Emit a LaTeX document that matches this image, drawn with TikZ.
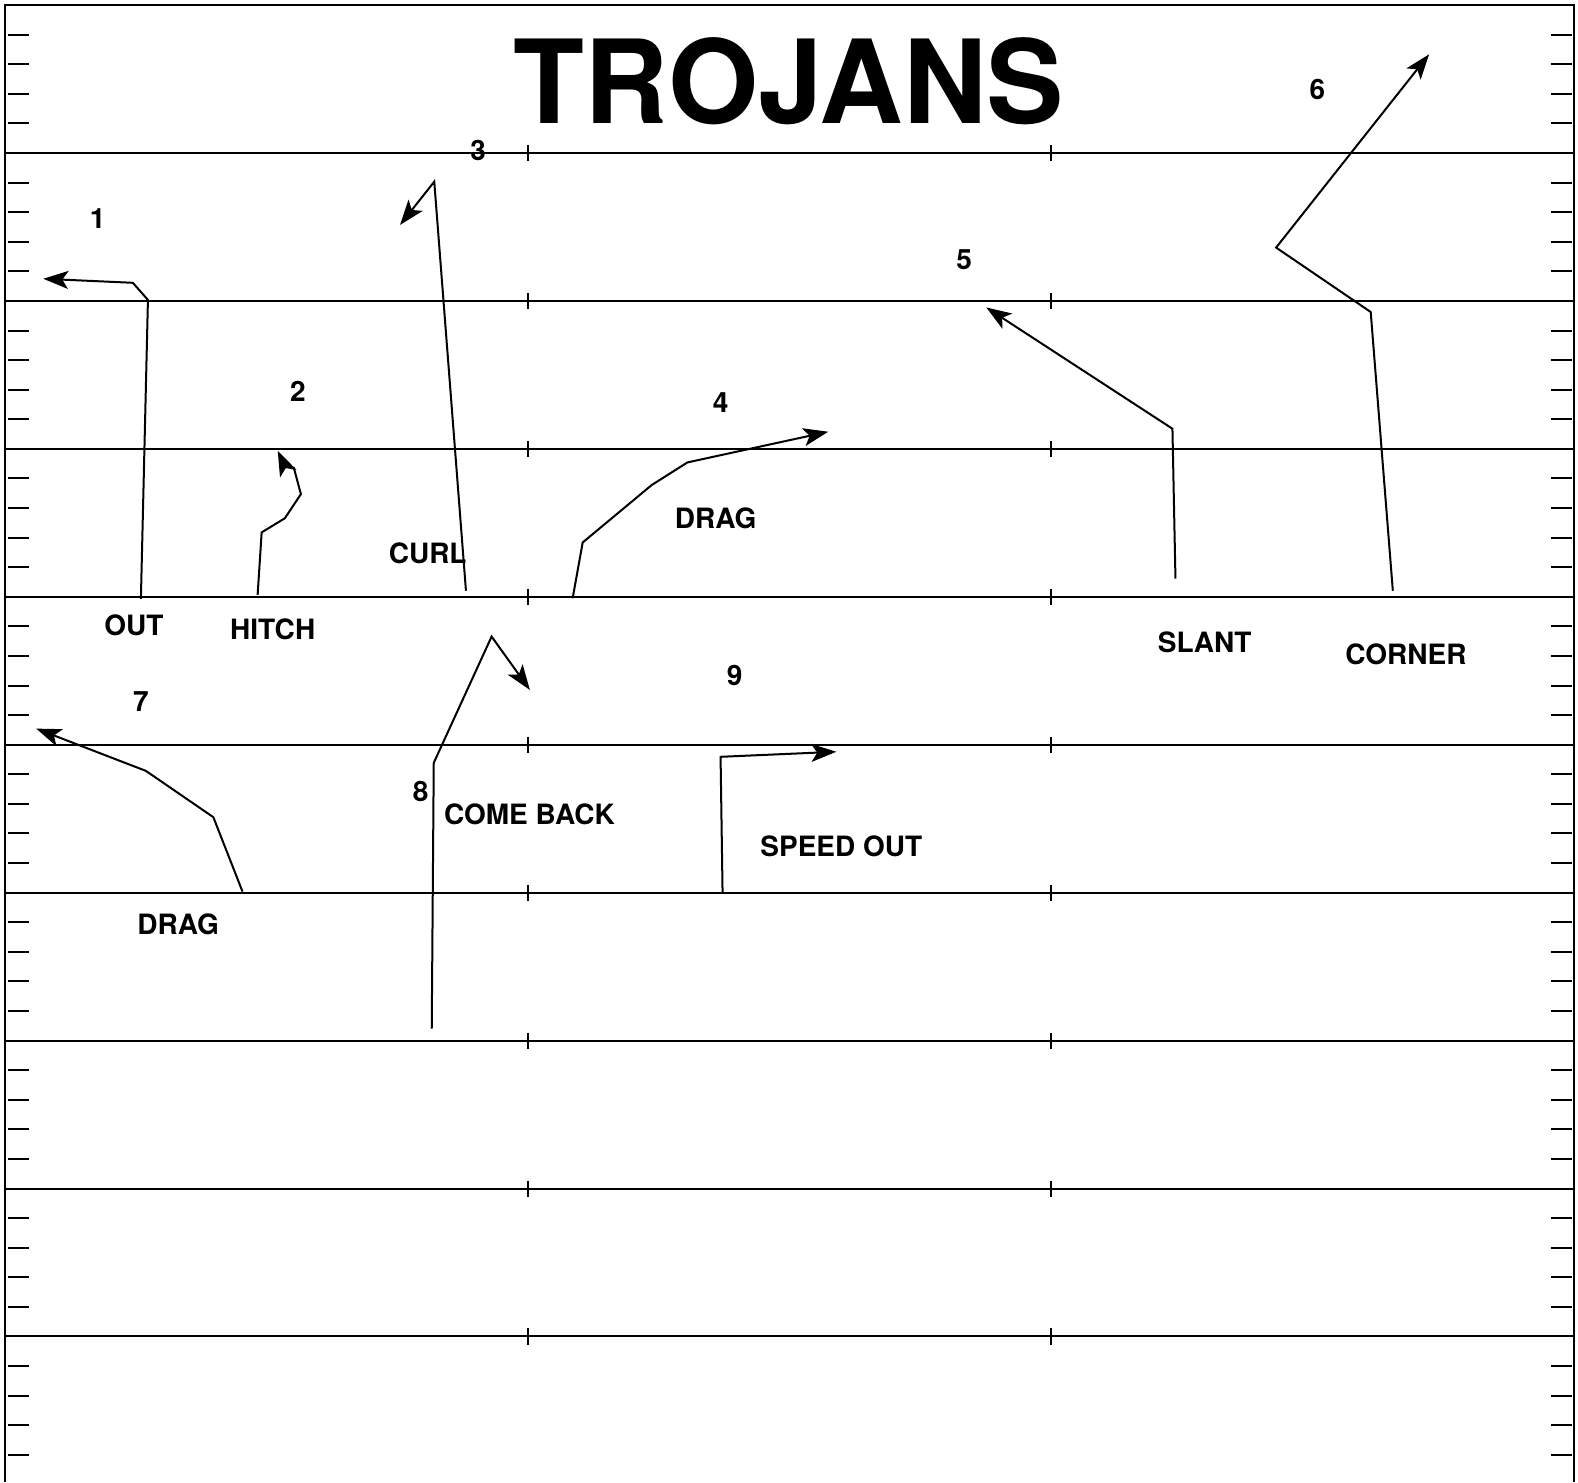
\documentclass[tikz,border=0pt]{standalone}
\usepackage{fontspec}
\setmainfont{TeX Gyre Heros}
\usetikzlibrary{arrows.meta}
\begin{document}
\begin{tikzpicture}[x=0.50319pt,y=-0.50319pt,line width=1pt,
  font=\bfseries\fontsize{14}{16}\selectfont,
  route/.style={line width=1pt,-{Stealth[length=12.5pt,width=9pt,inset=3pt]}}]
  % Coordinates are pixels of the play sheet, y runs downwards.
  \useasboundingbox (0,0) rectangle (1568,1473);
  \fill[white] (0,0) rectangle (1568,1473);
  \draw (5,1473) -- (5,5) -- (1564,5) -- (1564,1473);
  \foreach \k in {1,...,9}{\draw (5,{5+147*\k}) -- (1564,{5+147*\k});
    \draw (525,{147*\k-3}) -- (525,{147*\k+13});
    \draw (1044,{147*\k-3}) -- (1044,{147*\k+13});}
  \foreach \k in {0,...,9}{\foreach \j in {1,...,4}{
    \draw (8,{5+147*\k+29.4*\j}) -- (29,{5+147*\k+29.4*\j});
    \draw (1541,{5+147*\k+29.4*\j}) -- (1562,{5+147*\k+29.4*\j});}}
  \node[font=\bfseries\fontsize{58}{60}\selectfont] (title) at (784,81) {TROJANS};
  % routes
  \draw[route] (140,595) -- (147,298) -- (132,281) -- (43,277);
  \draw[route] (256,591) -- (260,529) -- (283,515) -- (299,491) -- (292,465)
    .. controls (282,461) .. (276,448);
  \draw[route] (463,587) -- (431.5,180.5) -- (397.5,223.5);
  \draw[route] (569,594.5) -- (579,539) -- (647.5,482) -- (683,459.5) -- (823,429);
  \draw[route] (1168,575) -- (1165,426) -- (980,305.5);
  \draw[route] (1384,587) -- (1362,310) -- (1268,246) -- (1420,54);
  \draw[route] (241,886) -- (212,812) -- (145,766) -- (36,724);
  \draw[route] (429,1022) -- (431,758) -- (488.5,632.5) -- (526.5,685.5);
  \draw[route] (718,888) -- (716,752) -- (831,747);
  % route names and numbers
  \foreach \nm/\x/\y/\lab in {out/133/621/OUT,hitch/271/625/HITCH,curl/425/550/CURL,
    dragA/711/515/DRAG,slant/1197/638/SLANT,corner/1397/650/CORNER,dragB/177/918/DRAG,
    comeback/526/809/COME BACK,speedout/836/841/SPEED OUT}
    \node (\nm) at (\x,\y) {\lab};
  \foreach \n/\x/\y in {1/97/217,2/296/389,3/475/150,4/716/400,5/958/258,
    6/1309/89,7/140/697,8/418/786,9/730/671}
    \node (num\n) at (\x,\y) {\n};
\end{tikzpicture}
\end{document}
